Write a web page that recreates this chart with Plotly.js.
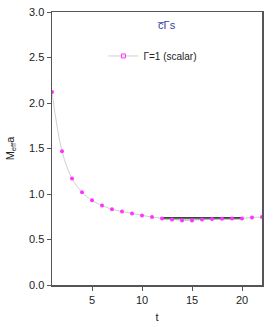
<!DOCTYPE html>
<html><head><meta charset="utf-8">
<script src="https://cdn.plot.ly/plotly-3.0.1.min.js"></script>
<style>html,body{margin:0;padding:0;background:#fff}</style>
</head><body>
<div id="chart" style="width:273px;height:327px"></div>
<script>
const tValues = [1,2,3,4,5,6,7,8,9,10,11,12,13,14,15,16,17,18,19,20,21,22];
const meffValues = [2.12,1.47,1.17,1.02,0.93,0.875,0.832,0.808,0.787,0.765,0.746,0.732,0.721,0.71,0.71,0.72,0.724,0.728,0.732,0.732,0.743,0.746];
const fitRange = [12,20];
const fitCentral = 0.733;
const fitError = 0.014;
const seriesName = "\u0393=1 (scalar)";
const titleText = "c\u0305\u0393s";

const bandX = [fitRange[0], fitRange[1], fitRange[1], fitRange[0], fitRange[0]];
const bandY = [fitCentral-fitError, fitCentral-fitError, fitCentral+fitError, fitCentral+fitError, fitCentral-fitError];

const traces = [
  {x: tValues, y: meffValues, mode:'lines', line:{color:'#d0d0d0', width:1, shape:'spline'}, showlegend:false, hoverinfo:'skip'},
  {x: bandX, y: bandY, mode:'lines', fill:'toself', fillcolor:'rgba(120,120,120,0.8)', line:{width:0}, showlegend:false},
  {x: fitRange, y: [fitCentral+0.006, fitCentral+0.006], mode:'lines', line:{color:'#444', width:1.5}, showlegend:false},
  {x: tValues, y: meffValues, mode:'markers', marker:{color:'#ff33ff', size:4, symbol:'circle'}, showlegend:false},
  {x: [null], y: [null], mode:'lines+markers', name: seriesName, line:{color:'#d0d0d0', width:1}, marker:{color:'#ff33ff', size:4, symbol:'square-open', line:{width:1}}}
];

const layout = {
  width:273, height:327,
  margin:{l:52, r:11, t:12, b:42},
  paper_bgcolor:'#fff', plot_bgcolor:'#fff',
  font:{family:'Liberation Sans, Arial, sans-serif', size:11, color:'#222'},
  xaxis:{range:[1,22], tickvals:[5,10,15,20], ticks:'outside', ticklen:4, tickcolor:'#555',
    showline:true, linecolor:'#555', linewidth:1.5, mirror:true, showgrid:false, zeroline:false,
    title:{text:'t', font:{size:11}, standoff:8}},
  yaxis:{range:[0,3], dtick:0.5, tickformat:'.1f', ticks:'outside', ticklen:4, tickcolor:'#555',
    showline:true, linecolor:'#555', linewidth:1.5, mirror:true, showgrid:false, zeroline:false,
    title:{text:'M<sub>eff</sub>a', font:{size:11}, standoff:12}},
  showlegend:true,
  legend:{x:0.245, y:0.839, xanchor:'left', yanchor:'middle', bgcolor:'rgba(0,0,0,0)', font:{size:10}},
  annotations:[{text:titleText, xref:'paper', yref:'paper', x:0.545, y:0.952, showarrow:false,
    font:{size:11, color:'#3a3aa8'}, xanchor:'center', yanchor:'middle'}]
};

Plotly.newPlot('chart', traces, layout, {displayModeBar:false, staticPlot:true});
</script>
</body></html>
